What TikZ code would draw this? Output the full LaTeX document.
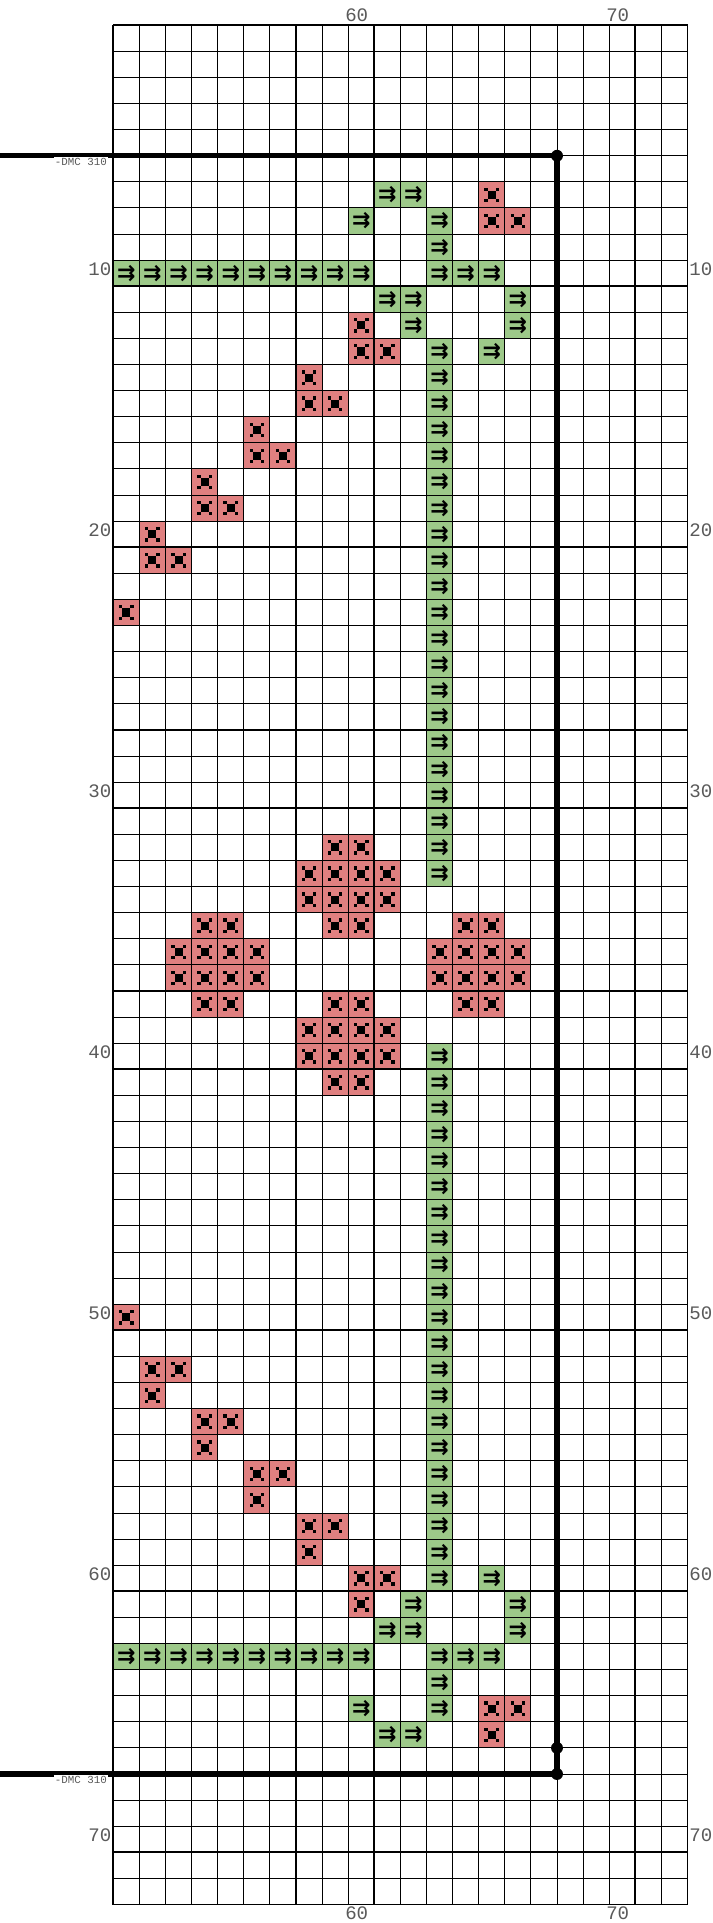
\documentclass[tikz,border=0pt]{standalone}
\usepackage{fontspec}
\newfontfamily\labfont{Liberation Mono}
\newfontfamily\symfont{DejaVu Sans}
\definecolor{stgreen}{RGB}{157,201,137}
\definecolor{stpink}{RGB}{224,128,128}
\definecolor{labgray}{RGB}{90,90,90}
\tikzset{
  cellbase/.style={minimum size=0.5cm, inner sep=0pt, outer sep=0pt, draw=none},
  greencell/.style={cellbase, fill=stgreen, text=black, font=\symfont\bfseries\fontsize{12}{12}\selectfont},
  pinkcell/.style={cellbase, fill=stpink, path picture={
      \fill[black] ([shift={(-0.155,-0.155)}]path picture bounding box.center) rectangle ++(0.31,0.31);
      \fill[black] ([shift={(-0.28,-0.28)}]path picture bounding box.center) rectangle ++(0.125,0.125);
      \fill[black] ([shift={(0.155,-0.28)}]path picture bounding box.center) rectangle ++(0.125,0.125);
      \fill[black] ([shift={(-0.28,0.155)}]path picture bounding box.center) rectangle ++(0.125,0.125);
      \fill[black] ([shift={(0.155,0.155)}]path picture bounding box.center) rectangle ++(0.125,0.125);
    }},
  gridthin/.style={line width=0.55pt, black},
  gridmajor/.style={line width=1.2pt, black},
  heavyline/.style={line width=2.9pt, black},
  dotnode/.style={circle, fill=black, inner sep=0pt, minimum size=6.5pt},
  numlab/.style={inner sep=0pt, text=labgray, font=\labfont\fontsize{10.4}{10.4}\selectfont},
  dmclab/.style={fill=white, inner sep=0.65pt, text=labgray, font=\labfont\fontsize{5.9}{5.9}\selectfont},
}
\begin{document}
\begin{tikzpicture}[x=0.5cm, y=0.5cm]
\useasboundingbox[fill=white] (-4.341,0.969) rectangle (22.939,-72.709);
% green cells (top half, mirrored to bottom half)
\foreach \i/\j in {10/6,11/6,9/7,12/7,12/8,0/9,1/9,2/9,3/9,4/9,5/9,6/9,7/9,8/9,9/9,12/9,13/9,14/9,10/10,11/10,15/10,11/11,15/11,14/12,12/12,12/13,12/14,12/15,12/16,12/17,12/18,12/19,12/20,12/21,12/22,12/23,12/24,12/25,12/26,12/27,12/28,12/29,12/30,12/31,12/32}{
  \pgfmathtruncatemacro\jm{71-\j}
  \node[greencell] (g-\i-\j) at (\i+0.5,-\j-0.5) {⇉};
  \node[greencell] (g-\i-\jm) at (\i+0.5,-\jm-0.5) {⇉};
}
% pink cells (top half, mirrored to bottom half)
\foreach \i/\j in {14/6,14/7,15/7,9/11,9/12,10/12,7/13,7/14,8/14,5/15,5/16,6/16,3/17,3/18,4/18,1/19,1/20,2/20,0/22,8/31,9/31,7/32,8/32,9/32,10/32,7/33,8/33,9/33,10/33,8/34,9/34,3/34,4/34,13/34,14/34,2/35,3/35,4/35,5/35,12/35,13/35,14/35,15/35}{
  \pgfmathtruncatemacro\jm{71-\j}
  \node[pinkcell] (p-\i-\j) at (\i+0.5,-\j-0.5) {};
  \node[pinkcell] (p-\i-\jm) at (\i+0.5,-\jm-0.5) {};
}
% grid
\foreach \k in {0,...,22} \draw[gridthin] (\k,0) -- (\k,-72);
\foreach \k in {0,...,72} \draw[gridthin] (0,-\k) -- (22,-\k);
\foreach \k in {0,10,20} \draw[gridmajor] (\k,0) -- (\k,-72);
\foreach \k in {0,10,...,70} \draw[gridmajor] (0,-\k) -- (22,-\k);
% column labels
\node[numlab, anchor=east] (ct60) at (9.78,0.38) {60};
\node[numlab, anchor=east] (ct70) at (19.78,0.38) {70};
\node[numlab, anchor=east] (cb60) at (9.78,-72.33) {60};
\node[numlab, anchor=east] (cb70) at (19.78,-72.33) {70};
% row labels
\foreach \r in {10,20,...,70}{
  \node[numlab, anchor=east] (rl\r) at (-0.06,-\r+0.64) {\r};
  \node[numlab, anchor=west] (rr\r) at (22.06,-\r+0.64) {\r};
}
% heavy outline
\node[dotnode] (d1) at (17,-5) {};
\node[dotnode] (d2) at (17,-66) {};
\node[dotnode] (d3) at (17,-67) {};
\coordinate (lt) at (-4.4,-5);
\coordinate (lb) at (-4.4,-67);
\draw[heavyline] (lt) -- (d1.center) -- (d3.center) -- (lb);
\node[dmclab] (dmct) at (-1.24,-5.23) {-DMC 310};
\node[dmclab] (dmcb) at (-1.24,-67.23) {-DMC 310};
\end{tikzpicture}
\end{document}
